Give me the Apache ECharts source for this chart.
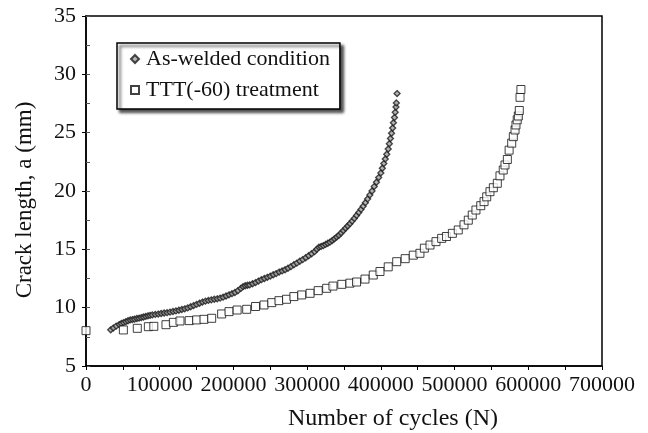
<!DOCTYPE html>
<html>
<head>
<meta charset="utf-8">
<script src="https://cdn.jsdelivr.net/npm/echarts@6/dist/echarts.min.js"></script>
<style>
html,body{margin:0;padding:0;background:#fff;}
#c{width:648px;height:433px;}
</style>
</head>
<body>
<div id="c"></div>
<script>
// As-welded condition: cycles (N) and crack length a (mm)
const weldedN = [33500,37000,41000,45000,48000,51000,54000,57000,60000,63000,66000,69000,72000,75000,78000,81000,84000,87000,90000,94000,98000,102000,106000,110000,114000,118000,122000,126000,130000,134000,138000,142000,146000,150000,154000,158000,162000,166000,170000,174000,178000,182000,186000,190000,194000,198000,202000,206000,210000,213000,216000,219000,222000,226000,230000,234000,238000,242000,246000,250000,254000,258000,262000,266000,270000,274000,278000,282000,286000,290000,294000,298000,302000,306000,310000,313000,316000,319000,322000,325000,328000,331000,334000,337000,340000,343000,346000,349000,352000,355000,358000,361000,364000,367000,370000,373000,376000,379000,382000,385000,388000,391000,394000,397000,400000,402000,404000,406000,408000,410000,411500,413000,414500,416000,417000,418500,419500,420500,421000,422000];
const weldedA = [8.1,8.25,8.42,8.55,8.65,8.72,8.8,8.88,8.95,8.98,9.02,9.07,9.1,9.15,9.2,9.25,9.3,9.34,9.38,9.42,9.45,9.5,9.54,9.57,9.62,9.67,9.72,9.78,9.84,9.9,9.98,10.08,10.18,10.28,10.38,10.48,10.56,10.62,10.67,10.72,10.76,10.82,10.9,11.0,11.1,11.2,11.3,11.45,11.65,11.8,11.88,11.92,11.95,12.05,12.15,12.28,12.4,12.5,12.6,12.7,12.82,12.92,13.05,13.15,13.25,13.38,13.52,13.68,13.82,13.98,14.12,14.28,14.45,14.62,14.8,15.0,15.18,15.25,15.32,15.42,15.52,15.62,15.75,15.9,16.05,16.2,16.4,16.6,16.8,17.0,17.2,17.42,17.65,17.9,18.15,18.42,18.7,19.0,19.32,19.65,20.0,20.38,20.75,21.15,21.55,21.95,22.35,22.75,23.15,23.6,24.05,24.5,24.95,25.4,25.85,26.3,26.75,27.2,27.55,28.35];

// TTT(-60) treatment
const tttN = [0,50700,69600,84600,92000,108500,118500,127500,140000,150000,160000,170500,184000,194000,205000,218000,230000,241500,252000,261800,272000,282000,292600,304000,315000,326500,335000,347000,358000,367000,378500,389700,398800,410000,421500,433000,444000,453000,459000,466700,474800,482500,489000,497000,505000,512800,518600,524000,529000,535500,540000,543600,548000,552600,558000,561600,566000,568400,571600,574000,577500,579700,582000,583300,585000,586500,587800,588800,590000];
const tttA = [8.03,8.09,8.23,8.37,8.4,8.54,8.74,8.86,8.89,8.95,9.0,9.09,9.46,9.66,9.8,9.86,10.1,10.23,10.43,10.6,10.72,10.95,11.09,11.23,11.46,11.66,11.85,12.0,12.1,12.2,12.45,12.8,13.1,13.5,13.94,14.2,14.5,14.66,15.1,15.37,15.66,15.94,16.1,16.37,16.66,17.1,17.5,17.94,18.37,18.74,19.09,19.5,19.94,20.28,20.66,21.3,21.8,22.23,22.7,23.5,24.1,24.66,25.23,25.66,26.1,26.43,26.9,28.03,28.7];

const seriesNames = ['As-welded condition', 'TTT(-60) treatment'];
const xTitle = 'Number of cycles (N)';
const yTitle = 'Crack length, a (mm)';

const FONT = 'Liberation Serif';
const chart = echarts.init(document.getElementById('c'), null, {renderer: 'canvas'});

const zip = (a, b) => a.map((v, i) => [v, b[i]]);

chart.setOption({
  animation: false,
  backgroundColor: '#fff',
  grid: {left: 86, right: 46, top: 16, bottom: 67, containLabel: false, outerBoundsMode: 'none',
         show: true, borderColor: '#000', borderWidth: 1.5, backgroundColor: '#fff'},
  legend: {
    orient: 'vertical',
    left: 117, top: 43,
    padding: [5, 10, 8, 13],
    itemGap: 9,
    itemWidth: 8, itemHeight: 8,
    backgroundColor: '#fff',
    borderColor: '#000', borderWidth: 1.5,
    shadowColor: 'rgba(0,0,0,0.7)', shadowBlur: 3, shadowOffsetX: 3, shadowOffsetY: 3,
    textStyle: {fontFamily: FONT, fontSize: 22, color: '#111', padding: [0, 0, 0, 2]},
    data: seriesNames
  },
  xAxis: [{
    type: 'value', min: 0, max: 700000, interval: 100000,
    name: xTitle, nameLocation: 'middle', nameGap: 41,
    nameTextStyle: {fontFamily: FONT, fontSize: 24, color: '#111', padding: [0, 0, 0, 98]},
    axisLine: {show: true, lineStyle: {color: '#000', width: 1.5}},
    axisTick: {show: true, length: 4, lineStyle: {color: '#000', width: 1}},
    minorTick: {show: true, splitNumber: 2, length: 4, lineStyle: {color: '#000', width: 1}},
    splitLine: {show: false},
    axisLabel: {fontFamily: FONT, fontSize: 22, color: '#111', margin: 8, formatter: v => String(v)}
  }],
  yAxis: [{
    type: 'value', min: 5, max: 35, interval: 5,
    name: yTitle, nameLocation: 'middle', nameGap: 50,
    nameTextStyle: {fontFamily: FONT, fontSize: 23, color: '#111', padding: [0, 18, 0, 0]},
    axisLine: {show: true, lineStyle: {color: '#000', width: 1.5}},
    axisTick: {show: true, length: 4, lineStyle: {color: '#000', width: 1}},
    splitLine: {show: false},
    axisLabel: {fontFamily: FONT, fontSize: 22, color: '#111', margin: 10, formatter: v => String(v)}
  }, {
    type: 'value', min: 5, max: 35, interval: 2.5, position: 'left',
    axisLine: {show: false},
    axisTick: {show: true, inside: true, length: 4, lineStyle: {color: '#555', width: 1}},
    axisLabel: {show: false},
    splitLine: {show: false}
  }],
  series: [{
    name: seriesNames[0], type: 'scatter', clip: false,
    symbol: 'diamond', symbolSize: 6,
    itemStyle: {color: '#a0a0a0', borderColor: '#1a1a1a', borderWidth: 1.3},
    data: zip(weldedN, weldedA)
  }, {
    name: seriesNames[1], type: 'scatter', clip: false,
    symbol: 'rect', symbolSize: 8,
    itemStyle: {color: '#fff', borderColor: '#111', borderWidth: 1},
    data: zip(tttN, tttA)
  }]
});
</script>
</body>
</html>
